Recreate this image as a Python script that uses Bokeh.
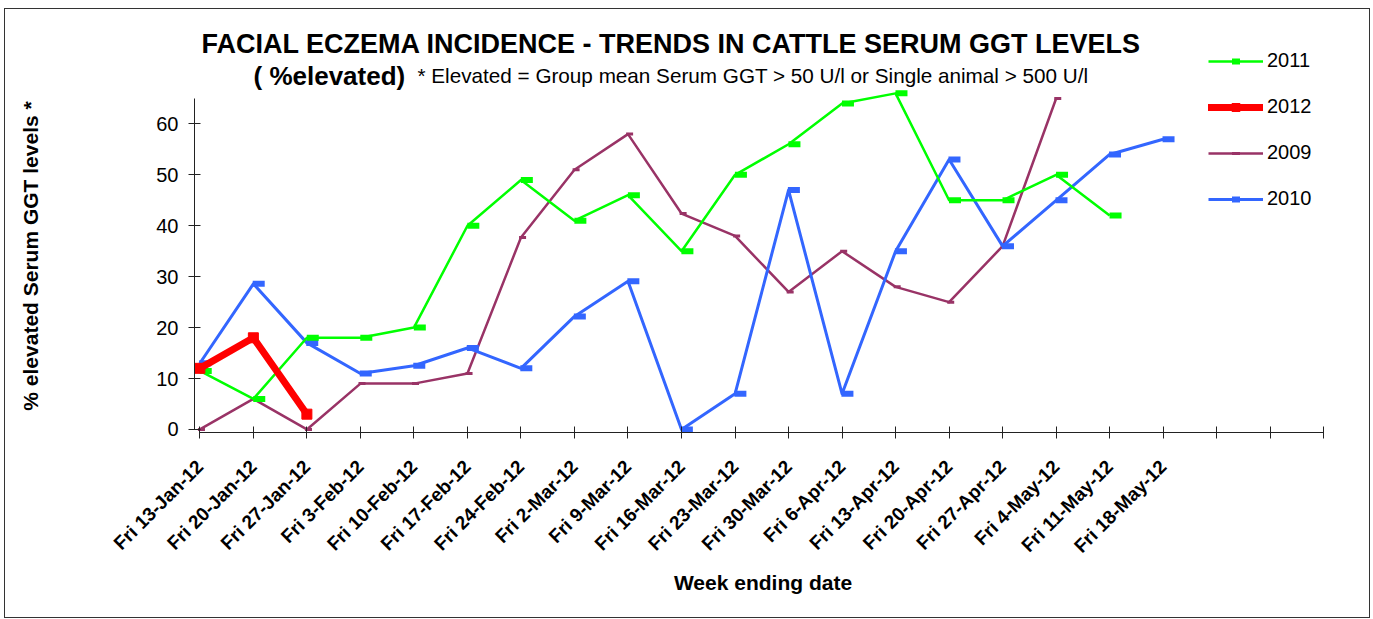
import math
from bokeh.plotting import figure
from bokeh.models import (Range1d, FixedTicker, Legend, LegendItem, Label,
                          ColumnDataSource)
from bokeh.transform import dodge
from bokeh.embed import file_html
from bokeh.resources import INLINE

# ---------------- data ----------------
weeks = ["Fri 13-Jan-12", "Fri 20-Jan-12", "Fri 27-Jan-12", "Fri 3-Feb-12",
         "Fri 10-Feb-12", "Fri 17-Feb-12", "Fri 24-Feb-12", "Fri 2-Mar-12",
         "Fri 9-Mar-12", "Fri 16-Mar-12", "Fri 23-Mar-12", "Fri 30-Mar-12",
         "Fri 6-Apr-12", "Fri 13-Apr-12", "Fri 20-Apr-12", "Fri 27-Apr-12",
         "Fri 4-May-12", "Fri 11-May-12", "Fri 18-May-12"]
blank_slots = ["", "", ""]
tick_labels = weeks + blank_slots

s2011 = [11.5, 6, 18, 18, 20, 40, 49, 41, 46, 35, 50, 56, 64, 66, 45, 45, 50, 42]
s2012 = [12, 18, 3]
s2009 = [0, 6, 0, 9, 9, 11, 37.7, 51, 58, 42.4, 38, 27, 35, 28, 25, 36, 65]
s2010 = [13, 28.6, 17, 11, 12.5, 16, 12, 22.2, 29.1, 0, 7, 47, 7, 35, 53, 36, 45, 54, 57]

y_ticks = [0, 10, 20, 30, 40, 50, 60]

title_1 = "FACIAL ECZEMA INCIDENCE - TRENDS IN CATTLE SERUM GGT LEVELS"
title_2a = "( %elevated)"
title_2b = "* Elevated = Group mean Serum GGT  > 50 U/l or Single animal > 500 U/l"
x_title = "Week ending date"
y_title = "% elevated Serum GGT levels *"

FONT = "Liberation Sans"

# ---------------- figure ----------------
p = figure(frame_width=1137, frame_height=423,
           min_border_left=189, min_border_right=38,
           min_border_top=0, min_border_bottom=185,
           x_range=Range1d(-0.1, 21.145), y_range=Range1d(-0.6, 82.47),
           output_backend="svg", toolbar_location=None, tools="")
p.styles = {"border": "1px solid #333", "margin": "8px 0px 0px 4px"}
p.outline_line_color = None
p.xgrid.visible = False
p.ygrid.visible = False
p.background_fill_color = "white"
p.border_fill_color = "white"

xa = p.xaxis[0]
xa.bounds = (0, len(tick_labels) - 1)
xa.ticker = FixedTicker(ticks=list(range(len(tick_labels))))
xa.major_label_overrides = {i: t for i, t in enumerate(tick_labels)}
xa.major_label_orientation = math.pi / 4
xa.major_label_text_font = FONT
xa.major_label_text_font_style = "bold"
xa.major_label_text_font_size = "19px"
xa.major_label_text_color = "black"
xa.major_label_standoff = 25
xa.major_tick_in = 6
xa.major_tick_out = 6
xa.minor_tick_line_color = None
xa.axis_line_color = "#222"
xa.major_tick_line_color = "#222"
xa.axis_label = x_title
xa.axis_label_text_font = FONT
xa.axis_label_text_font_style = "bold"
xa.axis_label_text_font_size = "21px"
xa.axis_label_text_color = "black"
xa.axis_label_standoff = 4

ya = p.yaxis[0]
ya.bounds = (0, 65)
ya.ticker = FixedTicker(ticks=y_ticks)
ya.major_label_text_font = FONT
ya.major_label_text_font_size = "20px"
ya.major_label_text_color = "black"
ya.major_label_standoff = 10
ya.major_tick_in = 6
ya.major_tick_out = 6
ya.minor_tick_line_color = None
ya.axis_line_color = "#222"
ya.major_tick_line_color = "#222"
# trailing no-break spaces shift the centred label down to where the reference has it
ya.axis_label = y_title + "\u00a0" * 12
ya.axis_label_text_font = FONT
ya.axis_label_text_font_style = "bold"
ya.axis_label_text_font_size = "21px"
ya.axis_label_text_color = "black"
ya.axis_label_standoff = 111


def src(vals):
    return ColumnDataSource(dict(x=list(range(len(vals))), y=vals))


# name, values, colour, line width, marker, marker size, marker line width, x offset
series = [
    ("2009", s2009, "#993366", 2.5, "dash", 7, 3, 0.03),
    ("2010", s2010, "#3366FF", 3, "dash", 12, 6, 0.10),
    ("2011", s2011, "#00FF00", 2.5, "dash", 12, 6, 0.11),
    ("2012", s2012, "#FF0000", 7, "square", 10, 1, 0.0),
]
rend = {}
for name, vals, col, lw, mk_type, ms, mlw, off in series:
    s = src(vals)
    ln = p.line("x", "y", source=s, line_color=col, line_width=lw,
                line_join="round", line_cap="round" if name == "2012" else "butt")
    mk = p.scatter(x=dodge("x", off), y="y", marker=mk_type, size=ms,
                   source=s, fill_color=col, line_color=col, line_width=mlw)
    rend[name] = [ln, mk]

legend = Legend(items=[LegendItem(label=n, renderers=rend[n])
                       for n in ["2011", "2012", "2009", "2010"]],
                location=(1014, 222))
legend.label_text_font = FONT
legend.label_text_font_size = "20px"
legend.label_text_color = "black"
legend.glyph_width = 55
legend.glyph_height = 20
legend.label_height = 20
legend.spacing = 23
legend.label_standoff = 4
legend.padding = 0
legend.margin = 0
legend.border_line_color = None
legend.background_fill_alpha = 0
p.add_layout(legend)

p.add_layout(Label(x=477, y=389, x_units="screen", y_units="screen",
                   text=title_1, text_font=FONT, text_font_style="bold",
                   text_font_size="27px", text_align="center",
                   text_baseline="alphabetic", text_color="black"))
p.add_layout(Label(x=59, y=357, x_units="screen", y_units="screen",
                   text=title_2a, text_font=FONT, text_font_style="bold",
                   text_font_size="26px", text_align="left",
                   text_baseline="alphabetic", text_color="black"))
p.add_layout(Label(x=223, y=357, x_units="screen", y_units="screen",
                   text=title_2b, text_font=FONT,
                   text_font_size="20.7px", text_align="left",
                   text_baseline="alphabetic", text_color="black"))

open("out.html", "w").write(file_html(p, INLINE))
